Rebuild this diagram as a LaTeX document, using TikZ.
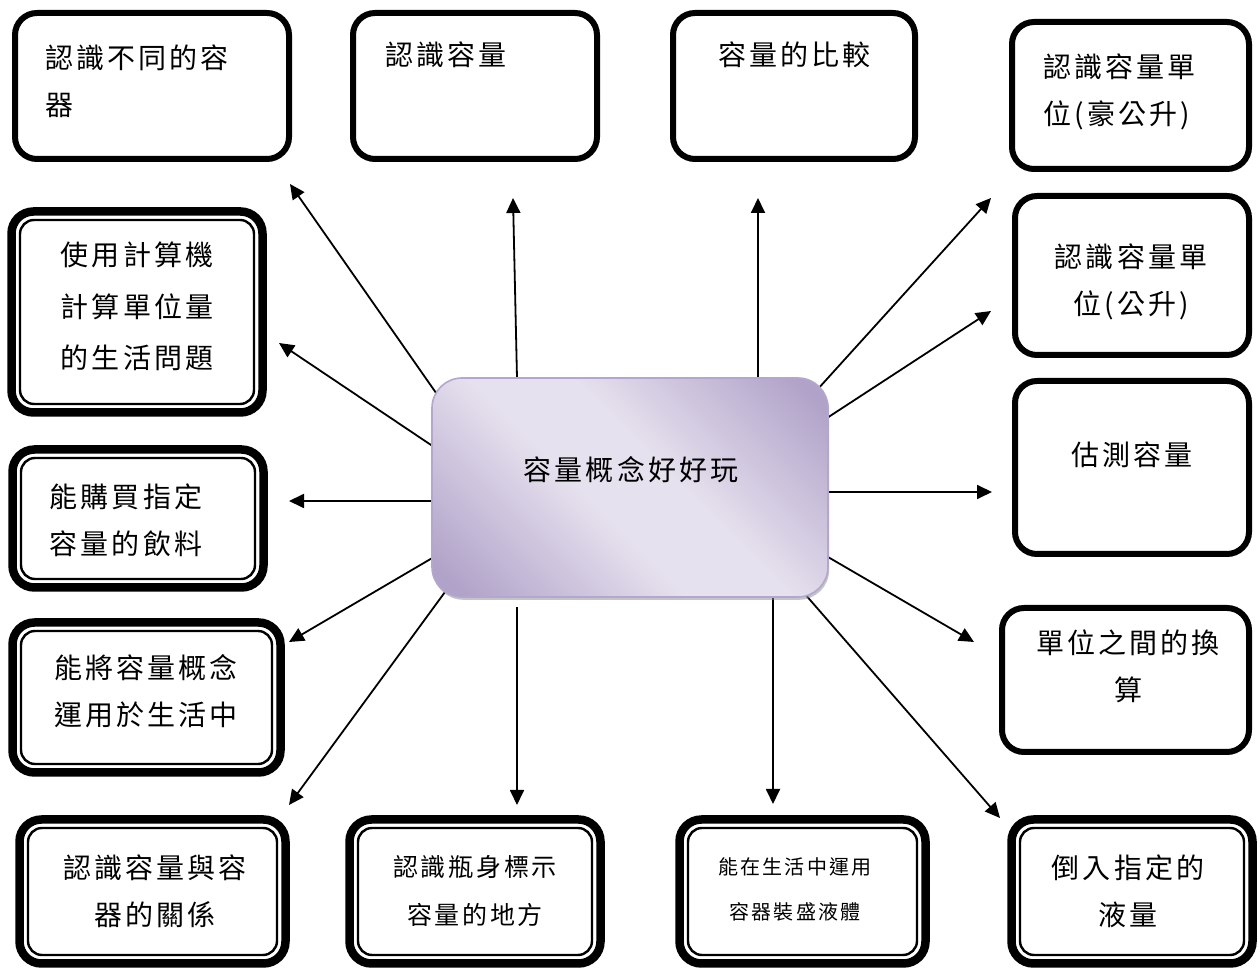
\documentclass[tikz,border=0pt]{standalone}
\usepackage{fontspec}
\newfontfamily\cjk[LetterSpace=11]{Noto Sans CJK TC}
\usetikzlibrary{arrows.meta,fit,shadows,backgrounds}
\definecolor{cdk}{RGB}{176,162,200}
\definecolor{clt}{RGB}{230,225,238}
\definecolor{cbd}{RGB}{180,166,206}
\pgfdeclareverticalshading{cshade}{100bp}{color(0bp)=(cdk); color(18bp)=(cdk); color(44bp)=(clt); color(56bp)=(clt); color(82bp)=(cdk); color(100bp)=(cdk)}
\begin{document}
\begin{tikzpicture}[x=0.5pt,y=-0.5pt,
  sbox/.style={draw=black, line width=3pt, rounded corners=11pt, inner sep=0pt, outer sep=0pt},
  dbox/.style={draw=black, line width=4.25pt, rounded corners=11pt, inner sep=0pt, outer sep=0pt},
  innerline/.style={draw=black, line width=1.2pt, rounded corners=7pt},
  txt/.style={font=\cjk\fontsize{14pt}{23.5pt}\selectfont, inner sep=0pt, align=center},
  ltxt/.style={txt, align=left, anchor=west},
  stxt/.style={font=\cjk\fontsize{10pt}{22.5pt}\selectfont, inner sep=0pt, align=center},
  mtxt/.style={font=\cjk\fontsize{12.5pt}{24pt}\selectfont, inner sep=0pt, align=center},
  arr/.style={-{Triangle[length=7.5pt,width=7pt]}, line width=0.9pt},
  tuck/.style={shorten <=-3pt},
  center box/.style={inner sep=0pt, outer sep=0pt, rounded corners=15pt, draw=cbd, line width=0.8pt,
     shade, shading=cshade, shading angle=-45,
     drop shadow={shadow xshift=0.6pt, shadow yshift=-1.4pt, fill=black!45, opacity=0.5}}
]
\useasboundingbox (0,0) rectangle (1260,972);

% single boxes
\node[sbox, fit={(15,13) (289,159)}] (b1) {};
\node[sbox, fit={(353,13) (597,159)}] (b2) {};
\node[sbox, fit={(673,13) (915,159)}] (b3) {};
\node[sbox, fit={(1012,22) (1249,169)}] (b4) {};
\node[sbox, fit={(1015,196) (1249,355)}] (b5) {};
\node[sbox, fit={(1015,381) (1249,554)}] (b6) {};
\node[sbox, fit={(1002,608) (1249,752)}] (b7) {};

% double boxes
\node[dbox, fit={(1011.5,819.5) (1252.5,963.5)}] (b8) {};
\node[dbox, fit={(679.5,819.5) (925.5,963.5)}] (b9) {};
\node[dbox, fit={(349.5,819.5) (600.5,963.5)}] (b10) {};
\node[dbox, fit={(19.5,819.5) (285.5,963.5)}] (b11) {};
\node[dbox, fit={(12.5,622.5) (280.5,772.5)}] (b12) {};
\node[dbox, fit={(12.5,449.5) (263.5,587.5)}] (b13) {};
\node[dbox, fit={(11.5,211.5) (262.5,412.5)}] (b14) {};
\foreach \n in {b8,b9,b10,b11,b12,b13,b14}
  \draw[innerline] ([xshift=4.25pt,yshift=4.25pt]\n.south west) rectangle ([xshift=-4.25pt,yshift=-4.25pt]\n.north east);

% centre
\node[center box, fit={(432,378) (828,597)}] (c) {};
\node[txt] (tc) at (631,470) {容量概念好好玩};

% texts
\node[ltxt] (t1) at (45,81) {認識不同的容\\器};
\node[ltxt] (t2) at (385,55) {認識容量};
\node[ltxt] (t3) at (718,55) {容量的比較};
\node[ltxt] (t4) at (1043,91.5) {認識容量單\\位(豪公升)};
\node[txt] (t5) at (1131,281.5) {認識容量單\\位(公升)};
\node[txt] (t6) at (1132,455) {估測容量};
\node[txt] (t7) at (1128,666.5) {單位之間的換\\算};
\node[txt] (t8) at (1128,891.5) {倒入指定的\\液量};
\node[stxt] (t9) at (795,889.5) {能在生活中運用\\容器裝盛液體};
\node[mtxt] (t10) at (475,891) {認識瓶身標示\\容量的地方};
\node[txt] (t11) at (155,891.5) {認識容量與容\\器的關係};
\node[txt] (t12) at (146,691.5) {能將容量概念\\運用於生活中};
\node[txt] (t13) at (126,520) {能購買指定\\容量的飲料};
\node[txt, font=\cjk\fontsize{14pt}{25.75pt}\selectfont] (t14) at (137,306.5) {使用計算機\\計算單位量\\的生活問題};

\begin{scope}[on background layer]
\fill[white] (0,0) rectangle (1260,972);
\coordinate (s1) at (434,390);  \coordinate (e1) at (290,184);
\coordinate (s2) at (517,378);  \coordinate (e2) at (513,198);
\coordinate (s3) at (758,378);  \coordinate (e3) at (758,198);
\coordinate (s4) at (817,390);  \coordinate (e4) at (991,198);
\coordinate (s5) at (827,418);  \coordinate (e5) at (991,311);
\coordinate (s6) at (828,492);  \coordinate (e6) at (992,492);
\coordinate (s7) at (828,557);  \coordinate (e7) at (974,642);
\coordinate (s8) at (804,593);  \coordinate (e8) at (1000,818);
\coordinate (s9) at (773,597);  \coordinate (e9) at (773,804);
\coordinate (s10) at (517,607); \coordinate (e10) at (517,805);
\coordinate (s11) at (445,592); \coordinate (e11) at (289,805);
\coordinate (s12) at (434,557); \coordinate (e12) at (289,642);
\coordinate (s13) at (434,501); \coordinate (e13) at (289,501);
\coordinate (s14) at (434,447); \coordinate (e14) at (279,343);
\foreach \i in {1,2,3,4,5,6,7,8,9,11,12,13,14}
  \draw[arr,tuck] (s\i) -- (e\i);
\draw[arr] (s10) -- (e10);
\end{scope}
\end{tikzpicture}
\end{document}
